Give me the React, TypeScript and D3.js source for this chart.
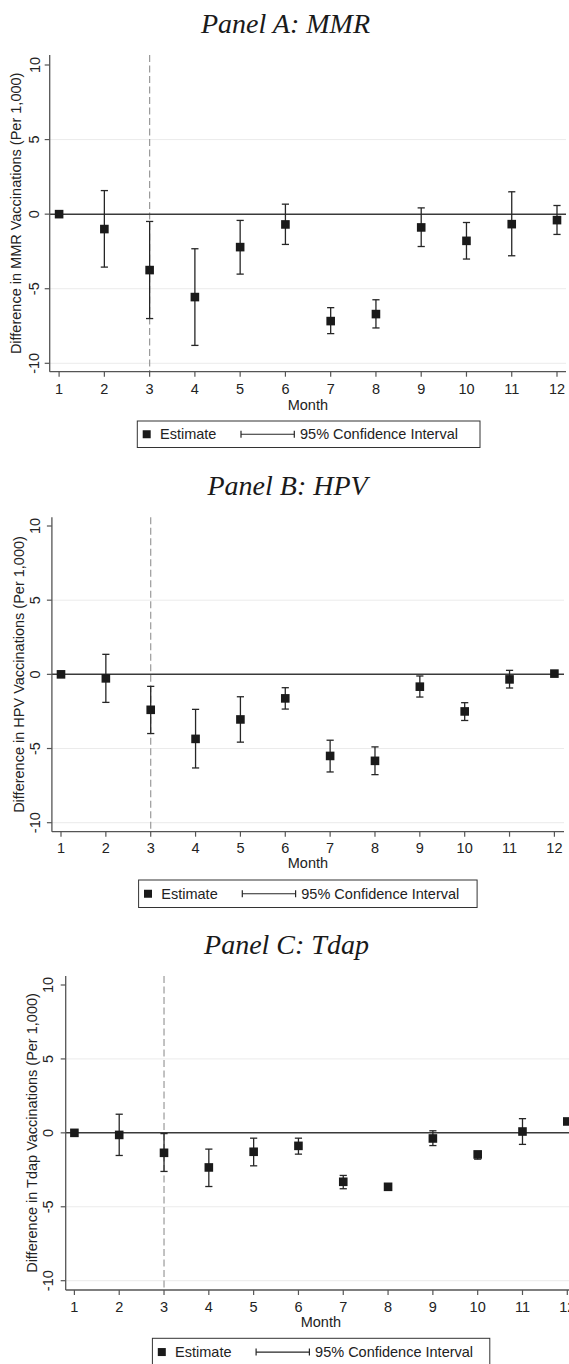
import React from 'react';
import * as d3 from 'd3';

const months = [1, 2, 3, 4, 5, 6, 7, 8, 9, 10, 11, 12];
const yTicks = [-10, -5, 0, 5, 10];
const gridValues = [-10, -5, 5];
const eventMonth = 3;

const mmrEstimate = [0, -1.0, -3.75, -5.56, -2.21, -0.69, -7.17, -6.7, -0.89, -1.79, -0.67, -0.4];
const mmrLower = [0, -3.55, -7.0, -8.8, -4.02, -2.03, -8.01, -7.63, -2.17, -3.01, -2.79, -1.36];
const mmrUpper = [0, 1.58, -0.49, -2.32, -0.42, 0.67, -6.27, -5.74, 0.42, -0.56, 1.5, 0.58];

const hpvEstimate = [0, -0.27, -2.39, -4.35, -3.04, -1.62, -5.5, -5.83, -0.83, -2.5, -0.34, 0.05];
const hpvLower = [0, -1.89, -3.99, -6.31, -4.57, -2.34, -6.58, -6.76, -1.53, -3.11, -0.92, 0.05];
const hpvUpper = [0, 1.35, -0.81, -2.36, -1.51, -0.9, -4.44, -4.89, -0.11, -1.91, 0.27, 0.05];

const tdapEstimate = [0, -0.14, -1.35, -2.34, -1.28, -0.88, -3.31, -3.65, -0.38, -1.46, 0.09, 0.77];
const tdapLower = [0, -1.53, -2.61, -3.63, -2.23, -1.44, -3.78, -3.75, -0.86, -1.78, -0.78, 0.6];
const tdapUpper = [0, 1.26, -0.05, -1.1, -0.36, -0.36, -2.88, -3.55, 0.14, -1.26, 0.96, 0.92];

const panelTitles = ['Panel A: MMR', 'Panel B: HPV', 'Panel C: Tdap'];
const yLabels = [
  'Difference in MMR Vaccinations (Per 1,000)',
  'Difference in HPV Vaccinations (Per 1,000)',
  'Difference in Tdap Vaccinations (Per 1,000)',
];
const legendEstimate = 'Estimate';
const legendCI = '95% Confidence Interval';
const xTitle = 'Month';

const SANS = '"Liberation Sans", Arial, Helvetica, sans-serif';
const SERIF = '"Liberation Serif", "Times New Roman", serif';

const layouts = [
  { x1: 59.1, x12: 557, axL: 49.7, axR: 566, y10: 65, yM10: 363.3, axT: 55, axB: 371.7, titleX: 285.5, titleY: 33.3, tickX: 39.5, yLabX: 21.5, xTickY: 394.3, monthY: 410, lg: { x: 137.3, y: 421, w: 342.7, h: 26.5 } },
  { x1: 61, x12: 554.4, axL: 51.9, axR: 564, y10: 526, yM10: 822.7, axT: 517.3, axB: 831.7, titleX: 287.6, titleY: 495, tickX: 40, yLabX: 23.5, xTickY: 853.3, monthY: 868.3, lg: { x: 138.6, y: 880, w: 338.5, h: 27.5 } },
  { x1: 74.4, x12: 567.3, axL: 65.7, axR: 576, y10: 985, yM10: 1280.7, axT: 976, axB: 1290, titleX: 286.5, titleY: 954, tickX: 52.6, yLabX: 36.5, xTickY: 1311.7, monthY: 1327, lg: { x: 152.4, y: 1338.3, w: 337.4, h: 27.5 } },
];

const series = [
  { est: mmrEstimate, lo: mmrLower, hi: mmrUpper },
  { est: hpvEstimate, lo: hpvLower, hi: hpvUpper },
  { est: tdapEstimate, lo: tdapLower, hi: tdapUpper },
];

function Panel({ idx }: { idx: number }) {
  const L = layouts[idx];
  const S = series[idx];
  const x = d3.scaleLinear().domain([1, 12]).range([L.x1, L.x12]);
  const y = d3.scaleLinear().domain([-10, 10]).range([L.yM10, L.y10]);
  const ms = 8.6;
  const cap = 3.6;
  const lgCy = L.lg.y + L.lg.h / 2;
  return (
    <g>
      <text x={L.titleX} y={L.titleY} textAnchor="middle" fontFamily={SERIF} fontStyle="italic" fontSize={28} fill="#1a1a1a">
        {panelTitles[idx]}
      </text>
      {gridValues.map((v) => (
        <line key={'g' + v} x1={L.axL} x2={L.axR} y1={y(v)} y2={y(v)} stroke="#ebebeb" strokeWidth={1} />
      ))}
      <line x1={x(eventMonth)} x2={x(eventMonth)} y1={L.axT} y2={L.axB} stroke="#9a9a9a" strokeWidth={1.2} strokeDasharray="7,3.5" />
      <line x1={L.axL} x2={L.axR} y1={y(0)} y2={y(0)} stroke="#3a3a3a" strokeWidth={1.5} />
      {months.map((m, i) =>
        S.hi[i] !== S.lo[i] ? (
          <g key={'e' + m} stroke="#262626" strokeWidth={1.3}>
            <line x1={x(m)} x2={x(m)} y1={y(S.hi[i])} y2={y(S.lo[i])} />
            <line x1={x(m) - cap} x2={x(m) + cap} y1={y(S.hi[i])} y2={y(S.hi[i])} />
            <line x1={x(m) - cap} x2={x(m) + cap} y1={y(S.lo[i])} y2={y(S.lo[i])} />
          </g>
        ) : null
      )}
      {months.map((m, i) => (
        <rect key={'m' + m} x={x(m) - ms / 2} y={y(S.est[i]) - ms / 2} width={ms} height={ms} fill="#1a1a1a" />
      ))}
      <line x1={L.axL} x2={L.axL} y1={L.axT} y2={L.axB} stroke="#555" strokeWidth={1.3} />
      <line x1={L.axL} x2={L.axR} y1={L.axB} y2={L.axB} stroke="#555" strokeWidth={1.3} />
      {yTicks.map((v) => (
        <g key={'yt' + v}>
          <line x1={L.axL - 5} x2={L.axL} y1={y(v)} y2={y(v)} stroke="#555" strokeWidth={1.2} />
          <text x={L.tickX} y={y(v)} transform={`rotate(-90, ${L.tickX}, ${y(v)})`} textAnchor="middle" fontFamily={SANS} fontSize={14.5} fill="#222">
            {v}
          </text>
        </g>
      ))}
      {months.map((m) => (
        <g key={'xt' + m}>
          <line x1={x(m)} x2={x(m)} y1={L.axB} y2={L.axB + 5} stroke="#555" strokeWidth={1.2} />
          <text x={x(m)} y={L.xTickY} textAnchor="middle" fontFamily={SANS} fontSize={14.5} fill="#222">
            {m}
          </text>
        </g>
      ))}
      <text x={(L.axL + L.axR) / 2} y={L.monthY} textAnchor="middle" fontFamily={SANS} fontSize={14.5} fill="#222">
        {xTitle}
      </text>
      <text
        x={L.yLabX}
        y={(L.axT + L.axB) / 2}
        transform={`rotate(-90, ${L.yLabX}, ${(L.axT + L.axB) / 2})`}
        textAnchor="middle"
        fontFamily={SANS}
        fontSize={14.5}
        fill="#222"
      >
        {yLabels[idx]}
      </text>
      <rect x={L.lg.x} y={L.lg.y} width={L.lg.w} height={L.lg.h} fill="#fff" stroke="#333" strokeWidth={1} />
      <rect x={L.lg.x + 5.4} y={lgCy - 4} width={8} height={8} fill="#1a1a1a" />
      <text x={L.lg.x + 22.7} y={lgCy + 5.2} fontFamily={SANS} fontSize={14.5} fill="#222">
        {legendEstimate}
      </text>
      <g stroke="#262626" strokeWidth={1.2}>
        <line x1={L.lg.x + 103.7} x2={L.lg.x + 157} y1={lgCy} y2={lgCy} />
        <line x1={L.lg.x + 103.7} x2={L.lg.x + 103.7} y1={lgCy - 3.5} y2={lgCy + 3.5} />
        <line x1={L.lg.x + 157} x2={L.lg.x + 157} y1={lgCy - 3.5} y2={lgCy + 3.5} />
      </g>
      <text x={L.lg.x + 162.7} y={lgCy + 5.2} fontFamily={SANS} fontSize={14.5} fill="#222">
        {legendCI}
      </text>
    </g>
  );
}

export default function App() {
  return (
    <svg width={569} height={1364} viewBox="0 0 569 1364" style={{ position: 'absolute', left: 0, top: 0, background: '#fff' }}>
      <rect x={0} y={0} width={569} height={1364} fill="#fff" />
      {[0, 1, 2].map((i) => (
        <Panel key={i} idx={i} />
      ))}
    </svg>
  );
}
